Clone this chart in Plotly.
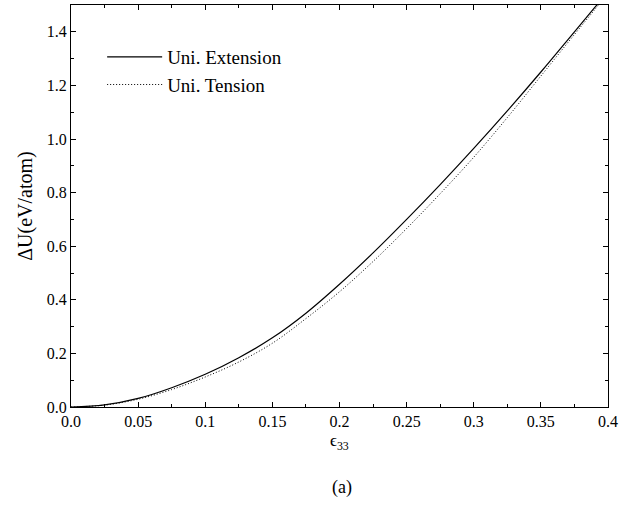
import plotly.graph_objects as go

strain = [0.0, 0.025, 0.05, 0.075, 0.1, 0.125, 0.15, 0.175, 0.2, 0.225, 0.25,
          0.275, 0.3, 0.325, 0.35, 0.375, 0.39, 0.4]
u_extension = [0.0, 0.008, 0.032, 0.072, 0.122, 0.184, 0.258, 0.35, 0.458, 0.575,
               0.70, 0.83, 0.965, 1.105, 1.25, 1.40, 1.49, 1.55]
u_tension = [0.0, 0.007, 0.029, 0.065, 0.112, 0.168, 0.238, 0.33, 0.43, 0.543,
             0.666, 0.796, 0.932, 1.08, 1.235, 1.39, 1.482, 1.545]

x_ticks = [0.0, 0.05, 0.1, 0.15, 0.2, 0.25, 0.3, 0.35, 0.4]
x_labels = ["0.0", "0.05", "0.1", "0.15", "0.2", "0.25", "0.3", "0.35", "0.4"]
y_ticks = [0.0, 0.2, 0.4, 0.6, 0.8, 1.0, 1.2, 1.4]
y_labels = ["0.0", "0.2", "0.4", "0.6", "0.8", "1.0", "1.2", "1.4"]

FONT = "Times New Roman, Liberation Serif, DejaVu Serif, serif"

fig = go.Figure()
fig.add_trace(go.Scatter(x=strain, y=u_extension, mode="lines", name="Uni. Extension",
                         line=dict(color="black", width=1.2, shape="spline", smoothing=1)))
fig.add_trace(go.Scatter(x=strain, y=u_tension, mode="lines", name="Uni. Tension",
                         line=dict(color="black", width=1, dash="1px,2px",
                                   shape="spline", smoothing=1)))

axis_common = dict(showline=True, linecolor="black", linewidth=1, mirror="ticks",
                   ticks="inside", ticklen=5, tickcolor="black", showgrid=False,
                   zeroline=False, tickfont=dict(family=FONT, size=16, color="black"))

fig.update_xaxes(range=[0, 0.4], tickvals=x_ticks, ticktext=x_labels,
                 minor=dict(dtick=0.025, ticks="inside", ticklen=3, tickcolor="black"),
                 **axis_common)
fig.update_yaxes(range=[0, 1.5], tickvals=y_ticks, ticktext=y_labels,
                 minor=dict(dtick=0.1, ticks="inside", ticklen=3, tickcolor="black"),
                 title=dict(text="ΔU(eV/atom)", font=dict(family=FONT, size=20, color="black"),
                            standoff=8),
                 **axis_common)

fig.add_annotation(text="ϵ<sub>33</sub>", xref="paper", yref="paper", x=0.5, y=-0.055,
                   xanchor="center", yanchor="top", showarrow=False,
                   font=dict(family=FONT, size=17, color="black"))
fig.add_annotation(text="(a)", xref="paper", yref="paper", x=0.505, y=-0.17,
                   xanchor="center", yanchor="top", showarrow=False,
                   font=dict(family=FONT, size=18, color="black"))

fig.update_layout(
    width=639, height=506,
    margin=dict(l=71, r=31, t=5, b=99),
    paper_bgcolor="white", plot_bgcolor="white",
    font=dict(family=FONT, color="black"),
    showlegend=True,
    legend=dict(x=0.058, y=0.918, xanchor="left", yanchor="top",
                bgcolor="rgba(0,0,0,0)", borderwidth=0,
                font=dict(family=FONT, size=19, color="black"),
                tracegroupgap=0, itemwidth=55),
)

fig.write_html("out.html")
